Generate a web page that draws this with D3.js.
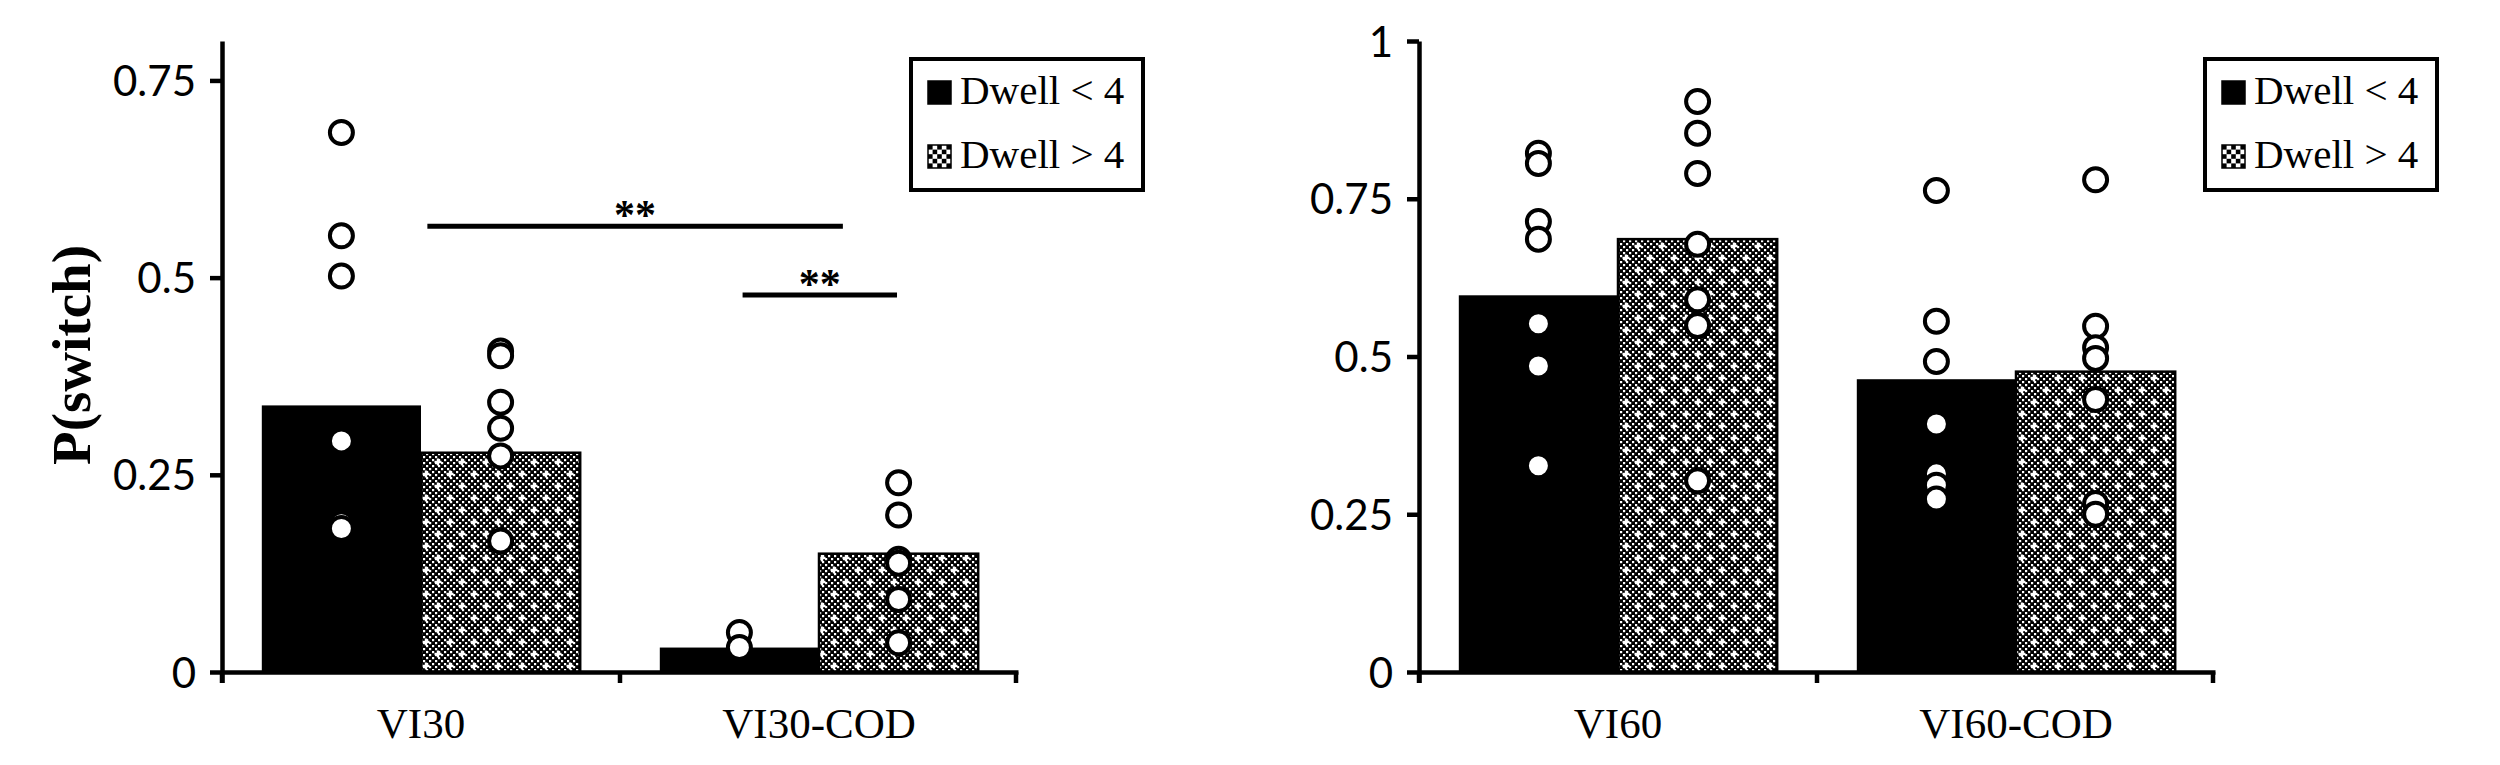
<!DOCTYPE html>
<html>
<head>
<meta charset="utf-8">
<script src="https://cdn.jsdelivr.net/npm/d3@7"></script>
<style>
  body { margin: 0; background: #fff; }
  svg { display: block; }
</style>
</head>
<body>
<div id="chart"></div>
<script>
// series shared by both panels
const series = ['Dwell < 4', 'Dwell > 4'];

// left panel: VI30
const categoriesA = ['VI30', 'VI30-COD'];
const meansA = [[0.338, 0.278], [0.031, 0.150]];
const pointsA = [
  [[0.684, 0.553, 0.502, 0.293, 0.188, 0.182], [0.407, 0.401, 0.342, 0.309, 0.274, 0.166]],
  [[0.050, 0.031], [0.240, 0.199, 0.143, 0.138, 0.092, 0.037]]
];
const tickValuesA = [0, 0.25, 0.5, 0.75];
const tickLabelsA = ['0', '0.25', '0.5', '0.75'];
// significance bars: [category, series, fraction along bar]
const sigA = [
  { from: [0, 1, 0.04], to: [1, 1, 0.15], level: 0.565, label: '**' },
  { from: [1, 0, 0.52], to: [1, 1, 0.49], level: 0.478, label: '**' }
];

// right panel: VI60
const categoriesB = ['VI60', 'VI60-COD'];
const meansB = [[0.597, 0.686], [0.464, 0.476]];
const pointsB = [
  [[0.822, 0.806, 0.714, 0.686, 0.552, 0.485, 0.327], [0.904, 0.854, 0.790, 0.678, 0.590, 0.549, 0.303]],
  [[0.763, 0.556, 0.492, 0.393, 0.314, 0.296, 0.274], [0.780, 0.548, 0.514, 0.497, 0.432, 0.267, 0.250]]
];
const tickValuesB = [0, 0.25, 0.5, 0.75, 1];
const tickLabelsB = ['0', '0.25', '0.5', '0.75', '1'];

const yLabel = 'P(switch)';

const W = 2500, H = 765;
const svg = d3.select('#chart').append('svg')
  .attr('width', W)
  .attr('height', H);

svg.append('rect').attr('width', W).attr('height', H).attr('fill', '#fff');

// dotted fill: dark fine checker with white crosses
const defs = svg.append('defs');
const pat = defs.append('pattern')
  .attr('id', 'dots')
  .attr('patternUnits', 'userSpaceOnUse')
  .attr('width', 24).attr('height', 24);
pat.append('rect').attr('width', 24).attr('height', 24).attr('fill', '#000');
for (let i = 0; i < 8; i++) {
  for (let j = 0; j < 8; j++) {
    if ((i + j) % 2 === 1) {
      pat.append('rect').attr('x', i * 3).attr('y', j * 3).attr('width', 2.2).attr('height', 2.2).attr('fill', '#fff');
    }
  }
}
[[6, 6], [18, 18]].forEach(([cx, cy]) => {
  pat.append('rect').attr('x', cx - 1.2).attr('y', cy - 3.5).attr('width', 2.4).attr('height', 7).attr('fill', '#fff');
  pat.append('rect').attr('x', cx - 3.5).attr('y', cy - 1.2).attr('width', 7).attr('height', 2.4).attr('fill', '#fff');
});

// coarser checker for the legend swatch
const pat2 = defs.append('pattern')
  .attr('id', 'legendDots')
  .attr('patternUnits', 'objectBoundingBox')
  .attr('width', 1).attr('height', 1);
pat2.append('rect').attr('width', 23).attr('height', 23).attr('fill', '#fff');
for (let i = 0; i < 5; i++) {
  for (let j = 0; j < 5; j++) {
    if ((i + j) % 2 === 0) {
      pat2.append('rect').attr('x', i * 4.6).attr('y', j * 4.6).attr('width', 4.6).attr('height', 4.6).attr('fill', '#000');
    }
  }
}

const fills = ['#000', 'url(#dots)'];
const legendFills = ['#000', 'url(#legendDots)'];

function drawPanel(opt) {
  const g = svg.append('g');

  const y = d3.scaleLinear().domain([0, opt.yMax]).range([672, 41]);
  const x0 = d3.scaleBand().domain(opt.cats).range([opt.left, opt.right])
    .paddingInner(0.2).paddingOuter(0.1);
  const x1 = d3.scaleBand().domain(series).range([0, x0.bandwidth()]);

  // bars
  opt.cats.forEach((c, i) => {
    series.forEach((s, j) => {
      g.append('rect')
        .attr('x', x0(c) + x1(s))
        .attr('y', y(opt.means[i][j]))
        .attr('width', x1.bandwidth())
        .attr('height', y(0) - y(opt.means[i][j]))
        .attr('fill', fills[j])
        .attr('stroke', '#000')
        .attr('stroke-width', j === 1 ? 2.5 : 0);
    });
  });

  // individual points
  opt.cats.forEach((c, i) => {
    series.forEach((s, j) => {
      g.selectAll(null)
        .data(opt.points[i][j])
        .enter().append('circle')
        .attr('cx', x0(c) + x1(s) + x1.bandwidth() / 2)
        .attr('cy', d => y(d))
        .attr('r', 11.5)
        .attr('fill', '#fff')
        .attr('stroke', '#000')
        .attr('stroke-width', 4);
    });
  });

  // y axis
  const yAxis = g.append('g')
    .attr('transform', `translate(${opt.left},0)`)
    .call(d3.axisLeft(y).tickValues(opt.ticks)
      .tickFormat((d, i) => opt.tickLabels[i])
      .tickSize(12).tickSizeOuter(0).tickPadding(14));
  yAxis.select('.domain').attr('stroke-width', 4.5);
  yAxis.selectAll('.tick line').attr('stroke-width', 4.5);
  yAxis.selectAll('.tick text')
    .attr('font-family', 'Lato, "Open Sans", sans-serif')
    .attr('font-size', 42)
    .attr('fill', '#000')
    .attr('dy', '0.36em');

  // x axis
  const xAxis = g.append('g')
    .attr('transform', `translate(0,${y(0)})`)
    .call(d3.axisBottom(x0).tickSize(0).tickSizeOuter(0));
  xAxis.select('.domain').attr('stroke-width', 4.5);
  xAxis.selectAll('.tick text')
    .attr('y', 66)
    .attr('dy', 0)
    .attr('font-family', '"Liberation Serif", "Times New Roman", serif')
    .attr('font-size', 43)
    .attr('fill', '#000');

  // category boundary ticks below the x axis
  const r = x0.range();
  const bounds = d3.range(opt.cats.length + 1).map(k => r[0] + k * (r[1] - r[0]) / opt.cats.length);
  g.selectAll(null).data(bounds).enter().append('line')
    .attr('x1', (d, k) => k === bounds.length - 1 ? d - 2 : d)
    .attr('x2', (d, k) => k === bounds.length - 1 ? d - 2 : d)
    .attr('y1', y(0))
    .attr('y2', y(0) + 11)
    .attr('stroke', '#000')
    .attr('stroke-width', 4.5);

  // significance bars
  (opt.sig || []).forEach(sg => {
    const xa = x0(opt.cats[sg.from[0]]) + x1(series[sg.from[1]]) + sg.from[2] * x1.bandwidth();
    const xb = x0(opt.cats[sg.to[0]]) + x1(series[sg.to[1]]) + sg.to[2] * x1.bandwidth();
    g.append('line')
      .attr('x1', xa).attr('x2', xb)
      .attr('y1', y(sg.level)).attr('y2', y(sg.level))
      .attr('stroke', '#000').attr('stroke-width', 5);
    g.append('text')
      .attr('x', (xa + xb) / 2)
      .attr('y', y(sg.level) + 3)
      .attr('text-anchor', 'middle')
      .attr('font-family', '"Liberation Serif", serif')
      .attr('font-weight', 'bold')
      .attr('font-size', 42)
      .text(sg.label);
  });

  // legend
  const lg = g.append('g').attr('transform', `translate(${opt.legendX},59)`);
  lg.append('rect')
    .attr('width', 232).attr('height', 131)
    .attr('fill', '#fff').attr('stroke', '#000').attr('stroke-width', 4);
  series.forEach((s, j) => {
    lg.append('rect')
      .attr('x', 17).attr('y', 22 + j * 64)
      .attr('width', 23).attr('height', 23)
      .attr('fill', legendFills[j])
      .attr('stroke', '#000').attr('stroke-width', 1.5);
    lg.append('text')
      .attr('x', 49).attr('y', 45 + j * 64)
      .attr('font-family', '"Liberation Serif", "Times New Roman", serif')
      .attr('font-size', 41)
      .text(s);
  });

  return g;
}

drawPanel({
  cats: categoriesA, means: meansA, points: pointsA, yMax: 0.8,
  ticks: tickValuesA, tickLabels: tickLabelsA,
  left: 222, right: 1018, legendX: 911, sig: sigA
});
drawPanel({
  cats: categoriesB, means: meansB, points: pointsB, yMax: 1,
  ticks: tickValuesB, tickLabels: tickLabelsB,
  left: 1419, right: 2215, legendX: 2205
});

// y axis title
svg.append('text')
  .attr('transform', 'translate(90,355) rotate(-90)')
  .attr('text-anchor', 'middle')
  .attr('font-family', '"Liberation Serif", "Times New Roman", serif')
  .attr('font-weight', 'bold')
  .attr('font-size', 55)
  .text(yLabel);

// extend y axes below the x axis
[222, 1419].forEach(x => {
  svg.append('line')
    .attr('x1', x + 0.5).attr('x2', x + 0.5)
    .attr('y1', 672).attr('y2', 683)
    .attr('stroke', '#000').attr('stroke-width', 4.5);
});
</script>
</body>
</html>
